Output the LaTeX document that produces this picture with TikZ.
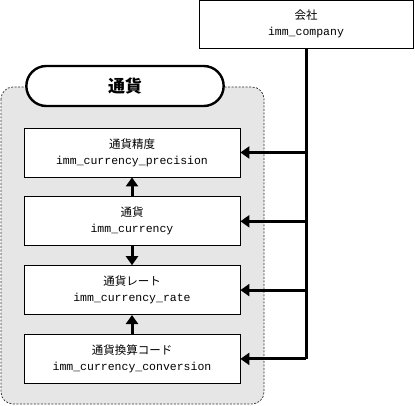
\documentclass[tikz,border=0pt]{standalone}
\usepackage{fontspec}
\setmainfont{Noto Sans CJK JP}
\setmonofont{Liberation Mono}
\usetikzlibrary{arrows.meta, positioning, backgrounds, shapes.misc}
\definecolor{grpfill}{HTML}{E6E6E6}
\definecolor{grpdraw}{HTML}{333333}
\tikzset{
  tbl/.style={rectangle, draw=black, fill=white, line width=0.8pt, align=center, font=\fontsize{11.5}{16}\selectfont, inner sep=2pt, minimum width=216pt, minimum height=49pt},
  grp/.style={draw=grpdraw, fill=grpfill, dashed, dash pattern=on 2pt off 1.5pt, line width=0.7pt, rounded corners=12pt},
  grptitle/.style={rounded rectangle, draw=black, fill=white, line width=2.4pt, font=\fontsize{17}{20}\selectfont\bfseries, minimum width=204pt, minimum height=40pt},
  link/.style={line width=3pt, draw=black},
  arr/.style={-{Triangle[length=9pt, width=12pt]}, line width=3pt, draw=black},
}

\begin{document}
\begin{tikzpicture}[x=1pt, y=-1pt, node distance=19pt]
  \useasboundingbox (0,0) rectangle (415,406);
  % group background
  \draw[grp] (1,87) rectangle (264,404);
  \node[grptitle] (title) at (125,86) {通貨};
  % tables
  \node[tbl, minimum width=214pt, minimum height=48pt] (comp) at (306,24) {会社\\\texttt{imm\_company}};
  \node[tbl] (prec) at (132,152.5) {通貨精度\\\texttt{imm\_currency\_precision}};
  \node[tbl, below=of prec] (cur) {通貨\\\texttt{imm\_currency}};
  \node[tbl, below=of cur] (rate) {通貨レート\\\texttt{imm\_currency\_rate}};
  \node[tbl, below=of rate] (conv) {通貨換算コード\\\texttt{imm\_currency\_conversion}};
  % references inside the group
  \draw[arr] (cur) -- (prec);
  \draw[arr] (cur) -- (rate);
  \draw[arr] (conv) -- (rate);
  % company references
  \draw[link] (comp.south) -- (comp.south |- conv.east);
  \foreach \t in {prec, cur, rate, conv}
    \draw[arr] (comp.south |- \t.east) -- (\t.east);
\end{tikzpicture}
\end{document}
